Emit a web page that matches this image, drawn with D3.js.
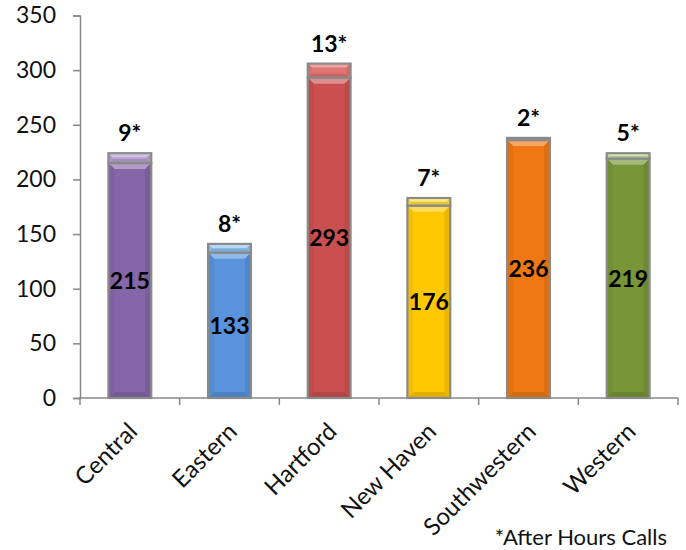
<!DOCTYPE html>
<html><head><meta charset="utf-8">
<script src="https://cdn.jsdelivr.net/npm/d3@7"></script>
<style>body{margin:0;background:#fff}svg{display:block}text{font-family:Lato,"Open Sans",sans-serif}</style>
</head><body>
<svg id="c" width="686" height="550"></svg>
<script>
const categories = ["Central","Eastern","Hartford","New Haven","Southwestern","Western"];
const regularCalls = [215,133,293,176,236,219];
const afterHours = [9,8,13,7,2,5];
const yTicks = [0,50,100,150,200,250,300,350];
const colors = ["#8566A8","#5893DC","#C9504F","#FFC800","#F07812","#789538"];
const topColors = ["#B7A2D2","#8EC4F2","#E07472","#FFE040","#F9A050","#C5DA9A"];
const footnote = "*After Hours Calls";

const svg = d3.select("#c");
const m = {l:80, t:15.5, r:686-678, b:550-398};
const W = 686-m.l-m.r, H = 550-m.t-m.b;
const g = svg.append("g").attr("transform",`translate(${m.l},${m.t})`);
const x = d3.scaleBand().domain(categories).range([0,W]).paddingInner(0.57).paddingOuter(0.285);
const y = d3.scaleLinear().domain([0,350]).range([H,0]);
const xb = d3.scaleLinear().domain([0,categories.length]).range([0,W]);

// y axis
const ya = g.append("g").call(d3.axisLeft(y).tickValues(yTicks).tickSize(7).tickPadding(17));
ya.select(".domain").attr("stroke","#888").attr("stroke-width",1.5);
ya.selectAll(".tick line").attr("stroke","#888").attr("stroke-width",1.5);
ya.selectAll(".tick text").attr("font-size",23).attr("fill","#111").style("font-family","Lato");

// x axis
const xa = g.append("g").attr("transform",`translate(0,${H})`);
xa.append("line").attr("x1",-1).attr("x2",W).attr("stroke","#888").attr("stroke-width",1.5);
xa.selectAll(".bt").data(d3.range(categories.length+1)).join("line")
  .attr("x1",d=>xb(d)).attr("x2",d=>xb(d)).attr("y1",0).attr("y2",7).attr("stroke","#888").attr("stroke-width",1.5);
xa.selectAll(".cl").data(categories).join("text")
  .attr("transform",d=>`translate(${x(d)+x.bandwidth()/2+9},${35}) rotate(-45)`)
  .attr("text-anchor","end").attr("font-size",24).attr("fill","#111").text(d=>d);

function seg(sel, x0, w, y0, y1, fill, bev){
  const h = y1-y0;
  sel.append("rect").attr("x",x0).attr("y",y0).attr("width",w).attr("height",h).attr("fill",fill);
  const b = Math.min(bev, h/2);
  const light = d3.interpolateRgb(fill,"#fff")(0.35);
  const dark = d3.interpolateRgb(fill,"#000")(0.12);
  sel.append("polygon").attr("points",[[x0,y0],[x0+w,y0],[x0+w-b,y0+b],[x0+b,y0+b]].join(" ")).attr("fill",light);
  sel.append("polygon").attr("points",[[x0,y1],[x0+w,y1],[x0+w-b,y1-b],[x0+b,y1-b]].join(" ")).attr("fill",dark);
  sel.append("polygon").attr("points",[[x0,y0],[x0+b,y0+b],[x0+b,y1-b],[x0,y1]].join(" ")).attr("fill",d3.interpolateRgb(fill,"#000")(0.05));
  sel.append("polygon").attr("points",[[x0+w,y0],[x0+w-b,y0+b],[x0+w-b,y1-b],[x0+w,y1]].join(" ")).attr("fill",d3.interpolateRgb(fill,"#000")(0.08));
  sel.append("rect").attr("x",x0).attr("y",y0).attr("width",w).attr("height",h).attr("fill","none").attr("stroke","#8a8a8a").attr("stroke-width",2.2);
}
categories.forEach((c,i)=>{
  const bg = g.append("g");
  const x0 = x(c), w = x.bandwidth();
  const total = regularCalls[i]+afterHours[i];
  seg(bg, x0, w, y(regularCalls[i]), y(0), colors[i], 6);
  seg(bg, x0, w, y(total), y(regularCalls[i]), topColors[i], 4);
  g.append("text").attr("x",x0+w/2).attr("y",y(regularCalls[i]/2)).attr("dy","0.36em")
    .attr("text-anchor","middle").attr("font-size",23).attr("font-weight","bold").attr("fill","#000").text(regularCalls[i]);
  g.append("text").attr("x",x0+w/2).attr("y",y(total)-20).attr("dy","0.36em")
    .attr("text-anchor","middle").attr("font-size",23).attr("font-weight","bold").attr("fill","#000").text(afterHours[i]+"*");
});
svg.append("text").attr("x",667).attr("y",545).attr("text-anchor","end").attr("font-size",22).attr("fill","#111").text(footnote);
</script>
</body></html>
